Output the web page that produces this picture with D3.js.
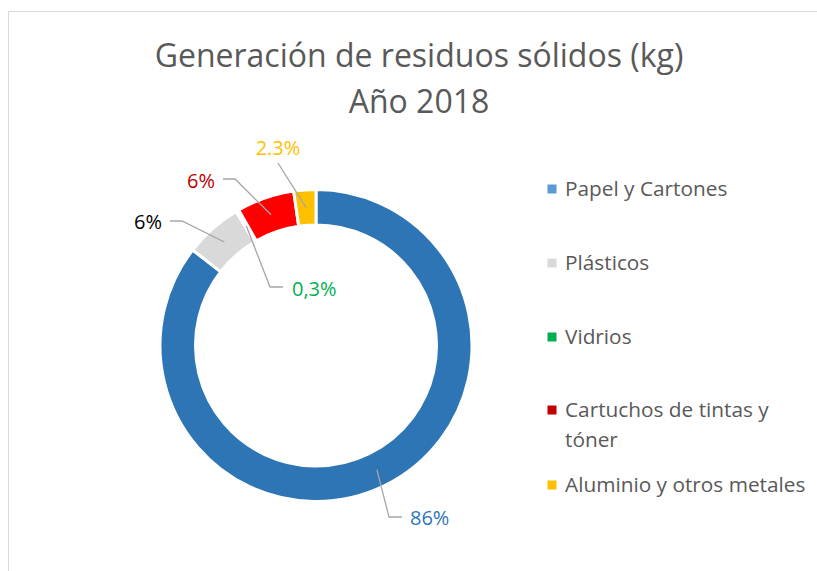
<!DOCTYPE html>
<html>
<head>
<meta charset="utf-8">
<script src="https://cdn.jsdelivr.net/npm/d3@7"></script>
<style>
  body { margin: 0; background: #fff; }
  text { font-family: "Open Sans", "Noto Sans", sans-serif; }
</style>
</head>
<body>
<div id="chart"></div>
<script>
// data
var categories = ["Papel y Cartones", "Plásticos", "Vidrios", "Cartuchos de tintas y tóner", "Aluminio y otros metales"];
var values = [86, 6, 0.3, 6, 2.3];
var valueLabels = ["86%", "6%", "0,3%", "6%", "2.3%"];
var sliceColors = ["#2e75b6", "#d9d9d9", "#00b050", "#ff0000", "#ffc000"];
var legendColors = ["#5b9bd5", "#d9d9d9", "#00b050", "#c00000", "#ffc000"];
var labelColors = ["#2e75b6", "#000000", "#00b050", "#c00000", "#ffc000"];

var width = 817, height = 571;
var cx = 316, cy = 345.5;
var outerR = 156, innerR = 120.5;

var svg = d3.select("#chart").append("svg")
    .attr("width", width)
    .attr("height", height);

// chart frame
svg.append("rect")
    .attr("x", 8.5).attr("y", 11.5)
    .attr("width", 830).attr("height", 600)
    .attr("fill", "#fff")
    .attr("stroke", "#d9d9d9")
    .attr("stroke-width", 1);

// title
var title = svg.append("text")
    .attr("x", 419)
    .attr("text-anchor", "middle")
    .attr("fill", "#595959")
    .style("font-size", "32px");
title.append("tspan").attr("x", 419).attr("y", 67).text("Generación de residuos sólidos (kg)");
title.append("tspan").attr("x", 419).attr("y", 113).text("Año 2018");

var pie = d3.pie().sort(null).value(d => d);
var arcs = pie(values);

var arc = d3.arc().innerRadius(innerR).outerRadius(outerR);

var g = svg.append("g").attr("transform", `translate(${cx},${cy})`);

g.selectAll("path.slice")
    .data(arcs)
    .enter()
    .append("path")
    .attr("class", "slice")
    .attr("d", arc)
    .attr("fill", (d, i) => sliceColors[i])
    .attr("stroke", "#fff")
    .attr("stroke-width", 3);

// label layout (elbow, line end, text anchor) relative to the page
var labelLayout = [
  { elbow: [389, 517], end: [402, 517], tx: 410, ty: 518, anchor: "start" },
  { elbow: [182, 221], end: [170, 221], tx: 162, ty: 222, anchor: "end" },
  { elbow: [270, 287], end: [283, 287], tx: 292, ty: 289, anchor: "start" },
  { elbow: [235, 179], end: [223, 179], tx: 215, ty: 181, anchor: "end" },
  { elbow: null, end: [278, 163], tx: 278, ty: 148, anchor: "middle" }
];

var labelArc = d3.arc().innerRadius((innerR + outerR) / 2).outerRadius((innerR + outerR) / 2);

arcs.forEach(function(d, i) {
  var c = labelArc.centroid(d);
  var L = labelLayout[i];
  var pts = [[cx + c[0], cy + c[1]]];
  if (L.elbow) pts.push(L.elbow);
  pts.push(L.end);
  svg.append("path")
      .attr("d", d3.line()(pts))
      .attr("fill", "none")
      .attr("stroke", "#a6a6a6")
      .attr("stroke-width", 1.3);
  svg.append("text")
      .attr("x", L.tx)
      .attr("y", L.ty)
      .attr("dy", "0.35em")
      .attr("text-anchor", L.anchor)
      .attr("fill", labelColors[i])
      .style("font-size", "20px")
      .text(valueLabels[i]);
});

// legend
var legendRows = [
  ["Papel y Cartones"],
  ["Plásticos"],
  ["Vidrios"],
  ["Cartuchos de tintas y", "tóner"],
  ["Aluminio y otros metales"]
];
var legendY = [189, 263, 337, 410, 485];

var legend = svg.append("g");
categories.forEach(function(name, i) {
  legend.append("rect")
      .attr("x", 547.5).attr("y", legendY[i] - 4.5)
      .attr("width", 9).attr("height", 9)
      .attr("fill", legendColors[i]);
  var t = legend.append("text")
      .attr("fill", "#595959")
      .style("font-size", "20.8px");
  legendRows[i].forEach(function(line, j) {
    t.append("tspan")
        .attr("x", 565)
        .attr("y", legendY[i] + j * 30)
        .attr("dy", "0.35em")
        .text(line);
  });
});
</script>
</body>
</html>
